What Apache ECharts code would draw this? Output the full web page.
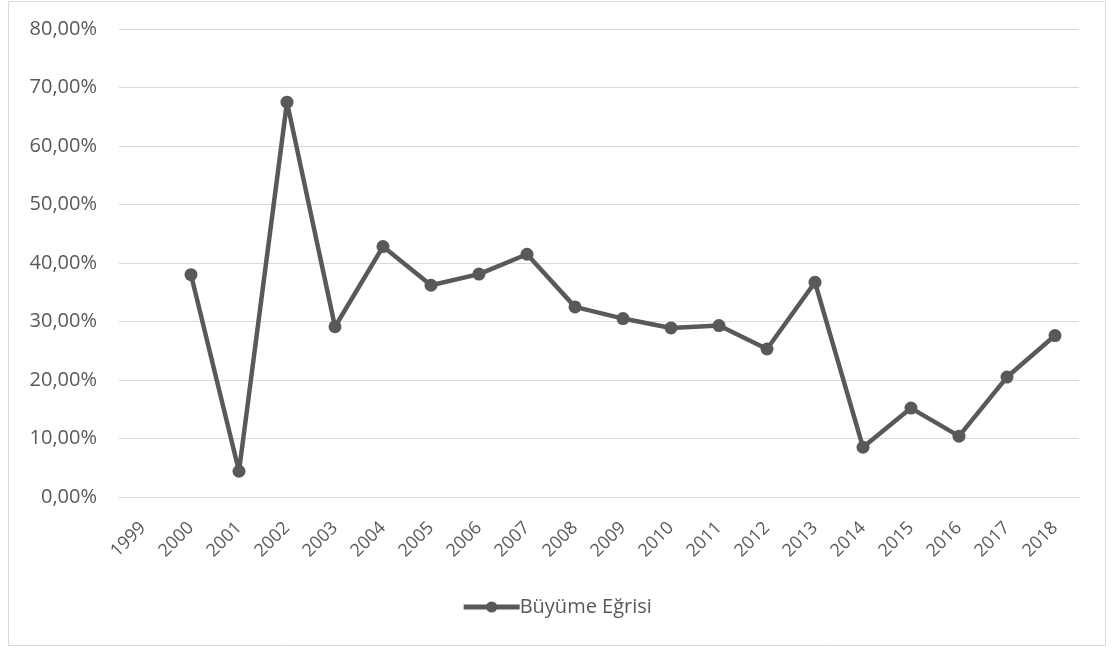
<!DOCTYPE html>
<html>
<head>
<meta charset="utf-8">
<script src="https://cdn.jsdelivr.net/npm/echarts@6/dist/echarts.min.js"></script>
<style>
  html, body { margin: 0; padding: 0; background: #fff; }
  #chart { width: 1113px; height: 649px; }
</style>
</head>
<body>
<div id="chart"></div>
<script>
const years = ['1999', '2000', '2001', '2002', '2003', '2004', '2005', '2006', '2007', '2008',
  '2009', '2010', '2011', '2012', '2013', '2014', '2015', '2016', '2017', '2018'];
const growth = [null, 38.0, 4.4, 67.5, 29.1, 42.8, 36.2, 38.1, 41.5, 32.5,
  30.5, 28.9, 29.3, 25.3, 36.7, 8.5, 15.2, 10.4, 20.5, 27.6];
const seriesName = 'Büyüme Eğrisi';

const textColor = '#595959';
const lineColor = '#595959';
const gridColor = '#d9d9d9';
const fontFamily = '"Open Sans", "Noto Sans", sans-serif';

const chart = echarts.init(document.getElementById('chart'), null, { renderer: 'canvas' });

chart.setOption({
  backgroundColor: '#fff',
  animation: false,
  textStyle: { fontFamily },
  graphic: [{
    type: 'rect',
    shape: { x: 8.5, y: 1.5, width: 1097, height: 644 },
    style: { fill: 'none', stroke: gridColor, lineWidth: 1 },
    silent: true
  }],
  grid: { left: 119, right: 34, top: 29, bottom: 152 },
  legend: {
    bottom: 27,
    left: 'center',
    itemWidth: 56,
    itemHeight: 14,
    itemGap: 0,
    itemStyle: { color: lineColor },
    lineStyle: { width: 5, color: lineColor },
    textStyle: { color: textColor, fontSize: 20, fontFamily, padding: [0, 0, 0, -5] },
    data: [seriesName]
  },
  xAxis: {
    type: 'category',
    data: years,
    boundaryGap: true,
    axisLine: { lineStyle: { color: gridColor, width: 1 } },
    axisTick: { show: false },
    axisLabel: { color: textColor, fontSize: 18, rotate: 45, margin: 28, interval: 0, fontFamily }
  },
  yAxis: {
    type: 'value',
    min: 0,
    max: 80,
    interval: 10,
    axisLine: { show: false },
    axisTick: { show: false },
    axisLabel: {
      color: textColor,
      fontSize: 20,
      margin: 22,
      fontFamily,
      formatter: v => v.toFixed(2).replace('.', ',') + '%'
    },
    splitLine: { lineStyle: { color: gridColor, width: 1 } }
  },
  series: [{
    name: seriesName,
    type: 'line',
    data: growth,
    symbol: 'circle',
    symbolSize: 13,
    lineStyle: { color: lineColor, width: 4.5 },
    itemStyle: { color: lineColor },
    connectNulls: false
  }]
});
</script>
</body>
</html>
